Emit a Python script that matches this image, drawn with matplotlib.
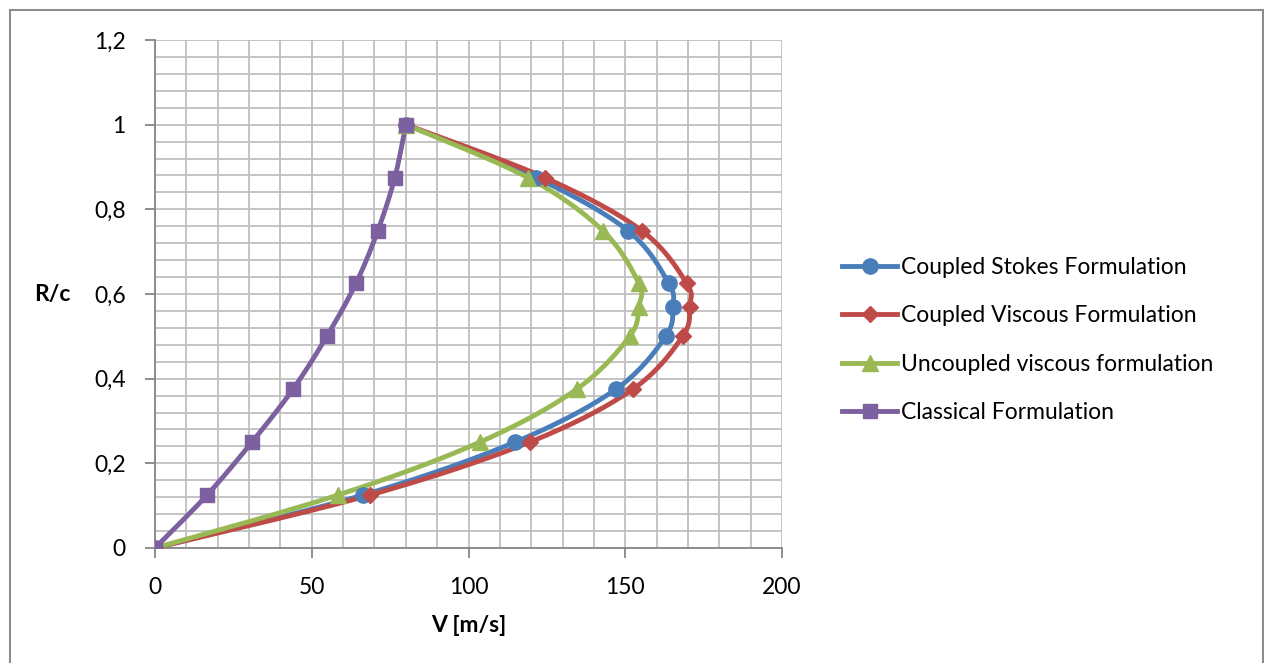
import matplotlib.pyplot as plt
import numpy as np
from matplotlib.patches import Rectangle
from matplotlib.ticker import MultipleLocator

plt.rcParams['font.family'] = ['Lato', 'DejaVu Sans']

# R/c stations along the span
r_c = [0, 0.125, 0.25, 0.375, 0.5, 0.57, 0.625, 0.75, 0.875, 1.0]
r_c_classic = [0, 0.125, 0.25, 0.375, 0.5, 0.625, 0.75, 0.875, 1.0]

# velocities [m/s]
v_stokes = [0, 66.3, 114.8, 147.0, 162.9, 165.1, 163.9, 150.8, 121.5, 80]
v_viscous = [0, 68.5, 119.5, 152.4, 168.3, 170.5, 169.6, 155.2, 124.3, 80]
v_uncoupled = [0, 58.3, 103.6, 134.5, 151.4, 154.3, 154.3, 142.8, 118.9, 80]
v_classic = [0, 16.6, 30.9, 44.0, 54.8, 64.1, 71.1, 76.5, 80]

labels = ['Coupled Stokes Formulation', 'Coupled Viscous Formulation',
          'Uncoupled viscous formulation', 'Classical Formulation']
colors = ['#4A7EBB', '#BE4B48', '#98B954', '#7D60A0']
markers = ['o', 'D', '^', 's']
msizes = [11, 8.5, 11, 10.5]


def smooth(x, y, n=30):
    # bezier smoothing through all points, like spreadsheet "smoothed line"
    p = np.column_stack([x, y]).astype(float)
    ext = np.vstack([p[0], p, p[-1]])
    t = np.linspace(0, 1, n)[:, None]
    out = []
    for i in range(1, len(ext) - 2):
        p0, p1, p2, p3 = ext[i - 1], ext[i], ext[i + 1], ext[i + 2]
        c1 = p1 + (p2 - p0) / 6
        c2 = p2 - (p3 - p1) / 6
        seg = ((1 - t) ** 3) * p1 + 3 * ((1 - t) ** 2) * t * c1 \
            + 3 * (1 - t) * t ** 2 * c2 + t ** 3 * p2
        out.append(seg)
    out = np.vstack(out)
    return out[:, 0], out[:, 1]


fig = plt.figure(figsize=(12.64, 6.63), dpi=100)
ax = fig.add_axes([155 / 1264, 115 / 663, 627 / 1264, 508 / 663])

series = [(v_stokes, r_c), (v_viscous, r_c), (v_uncoupled, r_c), (v_classic, r_c_classic)]
for (xs, ys), lab, c, m, ms in zip(series, labels, colors, markers, msizes):
    sx, sy = smooth(xs, ys)
    ax.plot(sx, sy, color=c, lw=3.5, solid_capstyle='round', zorder=3)
    ax.plot(xs, ys, ls='none', marker=m, ms=ms, color=c, zorder=4)
    ax.plot([], [], color=c, lw=3.5, marker=m, ms=ms, label=lab)

ax.set_xlim(0, 200)
ax.set_ylim(0, 1.2)
ax.xaxis.set_major_locator(MultipleLocator(50))
ax.xaxis.set_minor_locator(MultipleLocator(10))
ax.yaxis.set_major_locator(MultipleLocator(0.2))
ax.yaxis.set_minor_locator(MultipleLocator(0.04))
ax.grid(which='both', color='#BFBFBF', lw=1.3)
ax.set_axisbelow(True)

ax.set_xticks([0, 50, 100, 150, 200])
ax.set_xticklabels(['0', '50', '100', '150', '200'])
ax.set_yticks([0, 0.2, 0.4, 0.6, 0.8, 1.0, 1.2])
ax.set_yticklabels(['0', '0,2', '0,4', '0,6', '0,8', '1', '1,2'])
ax.tick_params(which='major', length=7, width=1.3, color='#868686',
               labelsize=16.5)
ax.tick_params(axis='y', pad=14)
ax.tick_params(axis='x', pad=14)
ax.tick_params(which='minor', length=0)

for s in ['top', 'right']:
    ax.spines[s].set_visible(False)
for s in ['left', 'bottom']:
    ax.spines[s].set_color('#868686')
    ax.spines[s].set_linewidth(1.3)

ax.set_xlabel('V [m/s]', fontsize=16.5, fontweight='bold', labelpad=12)
ax.set_ylabel('R/c', fontsize=16.5, fontweight='bold', rotation=0, labelpad=30,
              va='center')

fig.legend(loc='center left', bbox_to_anchor=(842 / 1264, 1 - 340 / 663),
           frameon=False, fontsize=16.5, handlelength=2.4, handletextpad=0.17,
           labelspacing=1.2, borderaxespad=0, borderpad=0)

# chart frame
fig.patches.append(Rectangle((10 / 1264, -0.05), 1253 / 1264, 1.05 - 10 / 663,
                             transform=fig.transFigure, fill=False,
                             edgecolor='#8C8C8C', lw=1.5))

fig.savefig('out.png', dpi=100)
